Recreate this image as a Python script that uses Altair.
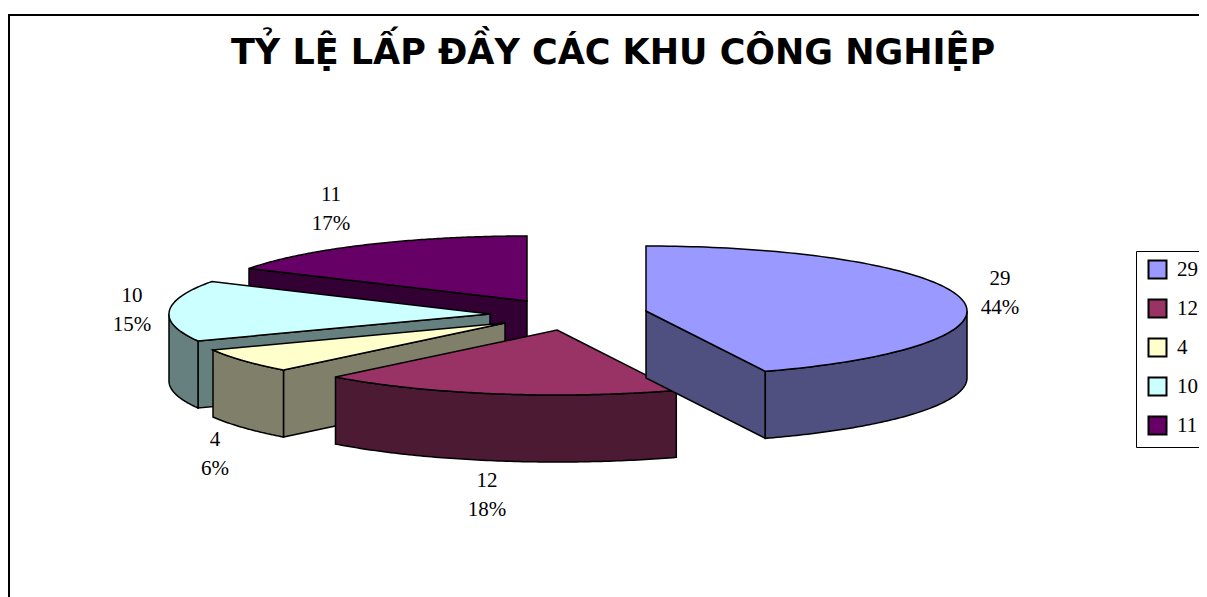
import numpy as np
import altair as alt

# --- data ---
values = [29, 12, 4, 10, 11]
names = ["29", "12", "4", "10", "11"]
top_colors = ["#9999FF", "#993366", "#FFFFCC", "#CCFFFF", "#660066"]
wall_colors = ["#4F4F80", "#4D1A33", "#80806A", "#668080", "#330033"]
title_text = "TỶ LỆ LẤP ĐẦY CÁC KHU CÔNG NGHIỆP"

# --- layout (page pixels) ---
A, B, DEPTH = 321, 65, 67
apex = [(646, 311), (557, 330), (505, 323), (490, 314), (527, 301)]
label_pos = [(1000, 279), (487, 481), (215, 440), (132, 296), (331, 195)]
PAD_TOP = 70
W, H = 1191, 589


def px(x, y):
    return [float(x - 8), float(y - 8 - PAD_TOP)]


total = sum(values)
edges = np.cumsum([0] + values) / total * 360.0


def rim(i, th, dz=0):
    t = np.radians(th)
    return apex[i][0] + A * np.sin(t), apex[i][1] - B * np.cos(t) + dz


def poly(points, key):
    ring = [px(*p) for p in points]
    ring.append(ring[0])
    return {"type": "Feature", "properties": {"key": key},
            "geometry": {"type": "Polygon", "coordinates": [ring]}}


features = []
for i in sorted(range(len(values)), key=lambda k: [4, 3, 2, 1, 0][k]):
    a0, a1 = edges[i], edges[i + 1]
    wall = names[i] + " wall"
    lo, hi = max(a0, 90), min(a1, 270)
    if 180 < a0 < 360:
        features.append(poly([apex[i], rim(i, a0), rim(i, a0, DEPTH),
                              (apex[i][0], apex[i][1] + DEPTH)], wall))
    if 0 < a1 < 180:
        features.append(poly([apex[i], rim(i, a1), rim(i, a1, DEPTH),
                              (apex[i][0], apex[i][1] + DEPTH)], wall))
    if hi > lo:
        th = np.linspace(lo, hi, 90)
        features.append(poly([rim(i, t) for t in th] +
                             [rim(i, t, DEPTH) for t in th[::-1]], wall))
    th = np.linspace(a0, a1, 120)
    features.append(poly([apex[i]] + [rim(i, t) for t in th], names[i]))

frame = [poly([(9, 15), (1300, 15), (1300, 700), (9, 700)], "frame")]

labels = [{"t": f"{n}\n{round(v / total * 100)}%", "lon": px(*p)[0], "lat": px(*p)[1]}
          for n, v, p in zip(names, values, label_pos)]

proj = dict(type="identity", scale=1, translate=[0, 0])

frame_layer = alt.Chart(alt.Data(values=frame)).mark_geoshape(
    filled=False, stroke="black", strokeWidth=2, clip=False
).project(**proj)

pie = alt.Chart(alt.Data(values=features)).mark_geoshape(
    stroke="black", strokeWidth=1.5, clip=False
).encode(
    color=alt.Color(
        "properties.key:N",
        scale=alt.Scale(domain=names + [n + " wall" for n in names],
                        range=top_colors + wall_colors),
        sort=None,
        legend=alt.Legend(
            title=None, values=names, orient="none", legendX=1128, legendY=173,
            padding=8, symbolOffset=3, symbolType="square", symbolSize=324,
            symbolStrokeColor="black", symbolStrokeWidth=2,
            labelFont="Liberation Serif", labelFontSize=21, labelColor="black",
            labelOffset=9, rowPadding=12, strokeColor="black", fillColor="white",
        ),
    )
).project(**proj)

text = alt.Chart(alt.Data(values=labels)).mark_text(
    font="Liberation Serif", fontSize=21, lineBreak="\n", lineHeight=29,
    color="black", align="center", baseline="middle", clip=False,
).encode(longitude="lon:Q", latitude="lat:Q", text="t:N").project(**proj)

chart = alt.layer(frame_layer, pie, text).properties(
    width=W, height=H - PAD_TOP,
    autosize=alt.AutoSizeParams(type="none"),
    padding={"left": 0, "top": PAD_TOP, "right": 0, "bottom": 0},
    title=alt.Title(title_text, font="DejaVu Sans", fontSize=35, fontWeight="bold",
                    color="black", anchor="start", dx=223, offset=-88, frame="group",
                    baseline="alphabetic"),
).configure_view(stroke=None)

chart.save("out.html", embed_options={"renderer": "svg", "actions": False})
